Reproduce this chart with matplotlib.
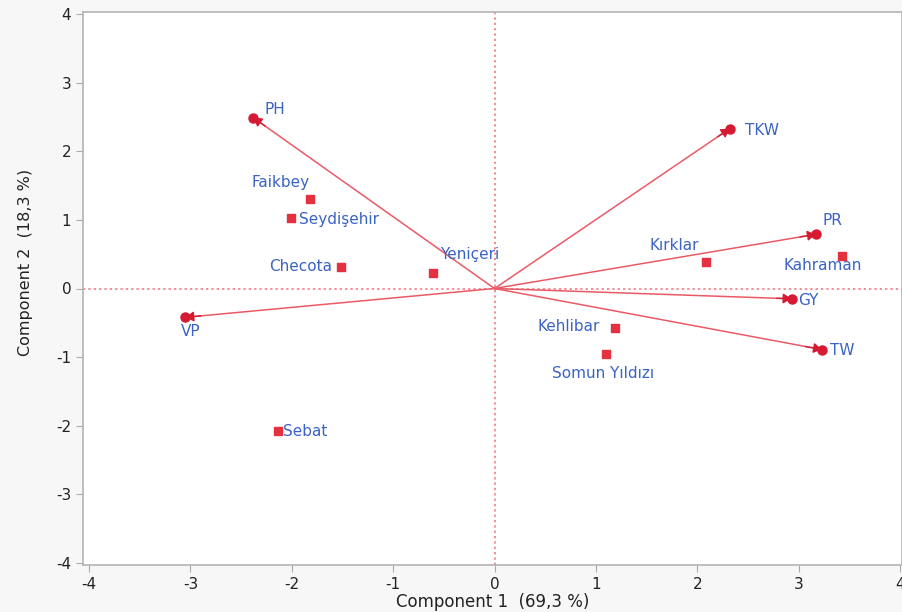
import matplotlib.pyplot as plt
import numpy as np

plt.rcParams['font.family'] = ['DejaVu Sans']
plt.rcParams['axes.unicode_minus'] = False

# trait loadings (arrows)
traits = ['PH', 'TKW', 'PR', 'GY', 'TW', 'VP']
trait_x = [-2.38, 2.32, 3.17, 2.93, 3.23, -3.05]
trait_y = [2.49, 2.33, 0.79, -0.15, -0.89, -0.42]

# genotype scores (squares)
genotypes = ['Faikbey', 'Seydişehir', 'Checota', 'Yeniçeri', 'Kırklar',
             'Kahraman', 'Kehlibar', 'Somun Yıldızı', 'Sebat']
geno_x = [-1.82, -2.01, -1.51, -0.61, 2.09, 3.43, 1.19, 1.10, -2.14]
geno_y = [1.30, 1.03, 0.32, 0.23, 0.39, 0.47, -0.58, -0.96, -2.07]

# label offsets in points and alignment
trait_lab = {'PH': (8, 6, 'left'), 'TKW': (11, -1, 'left'), 'PR': (5, 10, 'left'),
             'GY': (5, -1, 'left'), 'TW': (6, -1, 'left'), 'VP': (4, -10, 'center')}
geno_lab = {'Faikbey': (-21, 12, 'center'), 'Seydişehir': (6, -1, 'left'),
            'Checota': (-7, 0, 'right'), 'Yeniçeri': (5, 13, 'left'),
            'Kırklar': (-5, 12, 'right'), 'Kahraman': (-14, -7, 'center'),
            'Kehlibar': (-11, 1, 'right'), 'Somun Yıldızı': (-2, -14, 'center'),
            'Sebat': (4, -1, 'left')}

blue = '#3a63c4'
red = '#e4303f'
dark = '#d61a33'

fig = plt.figure(figsize=(9.03, 6.12), dpi=100, facecolor='#f7f7f7')
ax = fig.add_axes([83 / 903, 47 / 612, 819 / 903, 553 / 612])
ax.set_facecolor('white')

ax.axhline(0, color='#f0707a', lw=1.1, ls=(0, (1.5, 2)), zorder=1)
ax.axvline(0, color='#f0707a', lw=1.1, ls=(0, (1.5, 2)), zorder=1)

for name, x, y in zip(traits, trait_x, trait_y):
    ax.plot([0, x], [0, y], color='#ea5a66', lw=1.1, zorder=2)
    ax.annotate('', xy=(x, y), xytext=(x * 0.95, y * 0.95),
                arrowprops=dict(arrowstyle='-|>,head_length=0.5,head_width=0.3',
                                color=dark, lw=1, shrinkA=0, shrinkB=0), zorder=3)
    ax.plot(x, y, 'o', color=dark, ms=6.5, zorder=3)
    dx, dy, ha = trait_lab[name]
    ax.annotate(name, (x, y), xytext=(dx, dy), textcoords='offset points',
                ha=ha, va='center', color=blue, fontsize=11)

ax.scatter(geno_x, geno_y, marker='s', s=40, color=red, zorder=4)
for name, x, y in zip(genotypes, geno_x, geno_y):
    dx, dy, ha = geno_lab[name]
    ax.annotate(name, (x, y), xytext=(dx, dy), textcoords='offset points',
                ha=ha, va='center', color=blue, fontsize=11)

ax.set_xlim(-4.06, 4.02)
ax.set_ylim(-4.03, 4.03)
ax.set_xticks(np.arange(-4, 5))
ax.set_yticks(np.arange(-4, 5))
ax.tick_params(colors='#aaaaaa', labelcolor='#222222', labelsize=11, length=5)
# zero ticks in the reference-line colour
for tk in ax.xaxis.get_major_ticks()[4:5] + ax.yaxis.get_major_ticks()[4:5]:
    tk.tick1line.set_color('#f0707a')
for s in ax.spines.values():
    s.set_color('#b4b4b4')
    s.set_linewidth(1.2)

ax.set_xlabel('Component 1  (69,3 %)', fontsize=12, color='#222222', labelpad=1)
ax.set_ylabel('Component 2  (18,3 %)', fontsize=11.5, color='#222222')
ax.yaxis.set_label_coords(-0.061, 0.548)

fig.savefig('out.png', dpi=100, facecolor=fig.get_facecolor())
